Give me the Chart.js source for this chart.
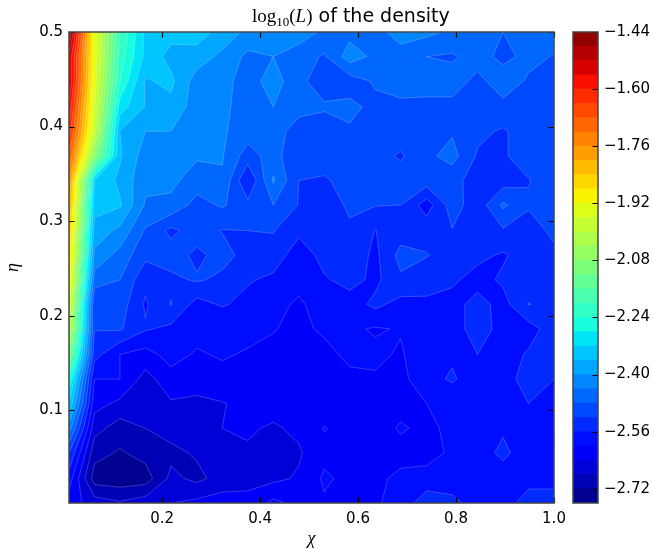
<!DOCTYPE html>
<html>
<head>
<meta charset="utf-8">
<title>log10(L) of the density</title>
<script src="https://cdn.jsdelivr.net/npm/chart.js@4/dist/chart.umd.min.js"></script>
<style>
    body { margin: 0; background: #fff; }
    canvas { position: absolute; top: 0; }
    #mapChart { left: 0; }
    #barChart { left: 560px; }
</style>
</head>
<body>
<canvas id="mapChart" width="653" height="550"></canvas>
<canvas id="barChart" width="93" height="550"></canvas>
<script>
// Grid of the contour map
const chiValues = [0.01, 0.062, 0.114, 0.166, 0.218, 0.271, 0.323, 0.375, 0.427, 0.479, 0.531, 0.583, 0.635, 0.687, 0.74, 0.792, 0.844, 0.896, 0.948, 1.0];
const etaValues = [0.5, 0.474, 0.448, 0.421, 0.395, 0.369, 0.343, 0.317, 0.29, 0.264, 0.238, 0.212, 0.186, 0.159, 0.133, 0.107, 0.081, 0.055, 0.028, 0.002];

// One list per chi value, running down from eta = 0.5
const logDensity = [
    [-1.44, -1.52, -1.52, -1.57, -1.62, -1.68, -1.76, -1.80, -1.84, -1.87, -1.90, -1.95, -2.00, -2.10, -2.24, -2.32, -2.42, -2.52, -2.58, -2.62],
    [-1.93, -1.93, -1.94, -1.96, -1.98, -2.08, -2.32, -2.345, -2.375, -2.41, -2.46, -2.52, -2.518, -2.545, -2.60, -2.625, -2.665, -2.705, -2.74, -2.66],
    [-2.20, -2.22, -2.24, -2.30, -2.36, -2.355, -2.37, -2.355, -2.41, -2.455, -2.48, -2.50, -2.515, -2.60, -2.60, -2.65, -2.70, -2.725, -2.745, -2.675],
    [-2.33, -2.33, -2.365, -2.362, -2.40, -2.42, -2.43, -2.445, -2.485, -2.51, -2.55, -2.565, -2.556, -2.615, -2.656, -2.665, -2.68, -2.705, -2.74, -2.658],
    [-2.345, -2.375, -2.35, -2.372, -2.40, -2.42, -2.43, -2.45, -2.53, -2.50, -2.53, -2.518, -2.57, -2.585, -2.615, -2.645, -2.665, -2.69, -2.67, -2.64],
    [-2.34, -2.378, -2.42, -2.42, -2.43, -2.435, -2.46, -2.495, -2.50, -2.53, -2.515, -2.576, -2.585, -2.605, -2.62, -2.65, -2.665, -2.675, -2.69, -2.63],
    [-2.375, -2.41, -2.425, -2.43, -2.435, -2.437, -2.445, -2.475, -2.522, -2.505, -2.53, -2.555, -2.60, -2.595, -2.615, -2.642, -2.64, -2.655, -2.665, -2.62],
    [-2.41, -2.45, -2.46, -2.46, -2.46, -2.50, -2.561, -2.508, -2.52, -2.535, -2.555, -2.575, -2.585, -2.605, -2.62, -2.63, -2.635, -2.645, -2.655, -2.625],
    [-2.41, -2.44, -2.42, -2.44, -2.46, -2.46, -2.435, -2.48, -2.518, -2.535, -2.57, -2.59, -2.598, -2.61, -2.62, -2.625, -2.645, -2.655, -2.65, -2.59],
    [-2.42, -2.46, -2.47, -2.465, -2.50, -2.52, -2.52, -2.522, -2.55, -2.585, -2.59, -2.605, -2.61, -2.61, -2.62, -2.625, -2.632, -2.645, -2.635, -2.61],
    [-2.447, -2.485, -2.50, -2.475, -2.50, -2.50, -2.525, -2.535, -2.54, -2.545, -2.565, -2.585, -2.593, -2.613, -2.61, -2.62, -2.598, -2.61, -2.594, -2.605],
    [-2.453, -2.42, -2.50, -2.47, -2.485, -2.495, -2.505, -2.515, -2.525, -2.532, -2.545, -2.58, -2.593, -2.59, -2.61, -2.615, -2.615, -2.61, -2.61, -2.605],
    [-2.448, -2.45, -2.475, -2.49, -2.50, -2.505, -2.51, -2.518, -2.561, -2.57, -2.57, -2.55, -2.604, -2.591, -2.605, -2.62, -2.62, -2.615, -2.61, -2.605],
    [-2.43, -2.45, -2.47, -2.485, -2.50, -2.525, -2.50, -2.52, -2.54, -2.506, -2.527, -2.575, -2.597, -2.605, -2.61, -2.615, -2.595, -2.615, -2.59, -2.585],
    [-2.43, -2.48, -2.472, -2.485, -2.495, -2.49, -2.50, -2.58, -2.535, -2.518, -2.54, -2.57, -2.58, -2.57, -2.578, -2.60, -2.61, -2.615, -2.585, -2.535],
    [-2.447, -2.485, -2.464, -2.49, -2.485, -2.465, -2.505, -2.50, -2.522, -2.535, -2.553, -2.575, -2.58, -2.568, -2.553, -2.60, -2.59, -2.593, -2.58, -2.55],
    [-2.45, -2.465, -2.49, -2.50, -2.51, -2.525, -2.54, -2.545, -2.55, -2.55, -2.575, -2.545, -2.54, -2.56, -2.59, -2.585, -2.585, -2.574, -2.58, -2.575],
    [-2.48, -2.49, -2.46, -2.49, -2.525, -2.525, -2.54, -2.472, -2.525, -2.565, -2.553, -2.575, -2.575, -2.58, -2.575, -2.58, -2.564, -2.553, -2.575, -2.58],
    [-2.45, -2.47, -2.485, -2.495, -2.50, -2.50, -2.522, -2.515, -2.54, -2.54, -2.535, -2.519, -2.578, -2.555, -2.545, -2.56, -2.58, -2.577, -2.575, -2.54],
    [-2.465, -2.482, -2.49, -2.49, -2.49, -2.49, -2.50, -2.50, -2.51, -2.53, -2.54, -2.53, -2.538, -2.545, -2.56, -2.58, -2.585, -2.585, -2.575, -2.54]
];

const contourLevels = [-2.76, -2.72, -2.68, -2.64, -2.60, -2.56, -2.52, -2.48, -2.44, -2.40, -2.36, -2.32, -2.28, -2.24, -2.20, -2.16, -2.12, -2.08, -2.04, -2.00, -1.96, -1.92, -1.88, -1.84, -1.80, -1.76, -1.72, -1.68, -1.64, -1.60, -1.56, -1.52, -1.48, -1.44];

const chiTicks = [0.2, 0.4, 0.6, 0.8, 1.0];
const etaTicks = [0.1, 0.2, 0.3, 0.4, 0.5];
const barTicks = [-2.72, -2.56, -2.40, -2.24, -2.08, -1.92, -1.76, -1.60, -1.44];

const sansFont = '"DejaVu Sans", sans-serif';
const serifFont = '"Liberation Serif", serif';

// matplotlib jet colormap
function jetChannel(points, t) {
    for (let i = 1; i < points.length; i++) {
        if (t <= points[i][0]) {
            const [x0, y0] = points[i - 1];
            const [x1, y1] = points[i];
            return y0 + (y1 - y0) * (t - x0) / (x1 - x0);
        }
    }
    return points[points.length - 1][1];
}

function jetColor(t) {
    const r = jetChannel([[0, 0], [0.35, 0], [0.66, 1], [0.89, 1], [1, 0.5]], t);
    const g = jetChannel([[0, 0], [0.125, 0], [0.375, 1], [0.64, 1], [0.91, 0], [1, 0]], t);
    const b = jetChannel([[0, 0.5], [0.11, 1], [0.34, 1], [0.65, 0], [1, 0]], t);
    return `rgb(${Math.round(r * 255)}, ${Math.round(g * 255)}, ${Math.round(b * 255)})`;
}

// Colour of the band that starts at contourLevels[k]
function bandColor(k) {
    const lo = contourLevels[0];
    const hi = contourLevels[contourLevels.length - 1];
    const mid = (contourLevels[k] + contourLevels[k + 1]) / 2;
    return jetColor((mid - lo) / (hi - lo));
}

function crossing(a, b, level) {
    const f = (level - a.v) / (b.v - a.v);
    return { x: a.x + (b.x - a.x) * f, y: a.y + (b.y - a.y) * f, cross: true };
}

// Part of one grid cell at or above the level, as polygons
function cellPolygons(c, level) {
    const above = c.map(p => p.v >= level);
    const isSaddle = above[0] === above[2] && above[1] === above[3] && above[0] !== above[1];
    const center = (c[0].v + c[1].v + c[2].v + c[3].v) / 4;
    if (isSaddle && center < level) {
        const first = above[0] ? 0 : 1;
        const [a, b, d, e] = [0, 1, 2, 3].map(i => c[(first + i) % 4]);
        return [
            [crossing(e, a, level), a, crossing(a, b, level)],
            [crossing(b, d, level), d, crossing(d, e, level)]
        ];
    }
    const poly = [];
    for (let i = 0; i < 4; i++) {
        const next = (i + 1) % 4;
        if (above[i]) poly.push(c[i]);
        if (above[i] !== above[next]) poly.push(crossing(c[i], c[next], level));
    }
    return poly.length ? [poly] : [];
}

// Filled contours, drawn through the chart's own scales
const contourPlugin = {
    id: 'contour',
    beforeDatasetsDraw(chart) {
        const { ctx, chartArea: area, scales } = chart;
        const cells = [];
        for (let i = 0; i < chiValues.length - 1; i++) {
            for (let j = 0; j < etaValues.length - 1; j++) {
                cells.push([[i, j], [i + 1, j], [i + 1, j + 1], [i, j + 1]].map(([a, b]) => ({
                    x: scales.x.getPixelForValue(chiValues[a]),
                    y: scales.y.getPixelForValue(etaValues[b]),
                    v: logDensity[a][b]
                })));
            }
        }
        ctx.save();
        ctx.beginPath();
        ctx.rect(area.left, area.top, area.right - area.left, area.bottom - area.top);
        ctx.clip();
        ctx.fillStyle = bandColor(0);
        ctx.fillRect(area.left, area.top, area.right - area.left, area.bottom - area.top);
        for (let k = 1; k < contourLevels.length - 1; k++) {
            const polys = cells.flatMap(c => cellPolygons(c, contourLevels[k]));
            ctx.beginPath();
            polys.forEach(poly => {
                poly.forEach((p, n) => (n ? ctx.lineTo(p.x, p.y) : ctx.moveTo(p.x, p.y)));
                ctx.closePath();
            });
            ctx.fillStyle = bandColor(k);
            ctx.fill();
            // Faint edge between two bands
            ctx.beginPath();
            polys.forEach(poly => {
                poly.forEach((p, n) => {
                    const q = poly[(n + 1) % poly.length];
                    if (p.cross && q.cross) {
                        ctx.moveTo(p.x, p.y);
                        ctx.lineTo(q.x, q.y);
                    }
                });
            });
            ctx.strokeStyle = 'rgba(255, 255, 255, 0.3)';
            ctx.lineWidth = 0.7;
            ctx.stroke();
        }
        ctx.restore();
    }
};

// Frame with inward ticks on the given sides
function drawFrame(chart, xTicks, yTicks) {
    const { ctx, chartArea: area, scales } = chart;
    const { left, right, top, bottom } = area;
    ctx.save();
    ctx.strokeStyle = '#000';
    ctx.lineWidth = 1.2;
    ctx.beginPath();
    xTicks.forEach(v => {
        const x = Math.round(scales.x.getPixelForValue(v)) + 0.5;
        ctx.moveTo(x, bottom); ctx.lineTo(x, bottom - 5.5);
        ctx.moveTo(x, top); ctx.lineTo(x, top + 5.5);
    });
    yTicks.forEach(v => {
        const y = Math.round(scales.y.getPixelForValue(v)) + 0.5;
        ctx.moveTo(right, y); ctx.lineTo(right - 5.5, y);
        if (xTicks.length) { ctx.moveTo(left, y); ctx.lineTo(left + 5.5, y); }
    });
    ctx.stroke();
    ctx.strokeStyle = '#444';
    ctx.lineWidth = 1.5;
    ctx.strokeRect(left, top, right - left, bottom - top);
    ctx.restore();
}

// Title mixes math text and plain text, so it goes piece by piece
function drawTitle(chart) {
    const { ctx } = chart;
    const pieces = [
        ['log', `19px ${serifFont}`, 0],
        ['10', `13px ${serifFont}`, 4],
        ['(', `19px ${serifFont}`, 0],
        ['L', `italic 19px ${serifFont}`, 0],
        [')', `19px ${serifFont}`, 0],
        [' of the density', `19px ${sansFont}`, 0]
    ];
    let x = 252;
    ctx.save();
    ctx.fillStyle = '#000';
    ctx.textBaseline = 'alphabetic';
    pieces.forEach(([text, font, drop]) => {
        ctx.font = font;
        ctx.fillText(text, x, 22 + drop);
        x += ctx.measureText(text).width;
    });
    ctx.restore();
}

const mapFramePlugin = {
    id: 'mapFrame',
    afterDraw(chart) {
        drawFrame(chart, chiTicks, etaTicks);
        drawTitle(chart);
    }
};

new Chart(document.getElementById('mapChart'), {
    type: 'scatter',
    data: {
        datasets: [{
            data: chiValues.flatMap(x => etaValues.map(y => ({ x, y }))),
            pointRadius: 0,
            showLine: false
        }]
    },
    plugins: [contourPlugin, mapFramePlugin],
    options: {
        responsive: false,
        animation: false,
        layout: { padding: { top: 32, right: 99, bottom: 0, left: 0 } },
        plugins: { legend: { display: false }, tooltip: { enabled: false } },
        scales: {
            x: {
                type: 'linear',
                min: 0.01,
                max: 1.0,
                grid: { display: false, drawTicks: false },
                border: { display: false },
                afterBuildTicks: scale => { scale.ticks = chiTicks.map(value => ({ value })); },
                afterFit: scale => { scale.height = 47; },
                ticks: {
                    maxRotation: 0,
                    autoSkip: false,
                    padding: 7,
                    color: '#000',
                    font: { family: sansFont, size: 15 },
                    callback: v => v.toFixed(1)
                },
                title: {
                    display: true,
                    text: 'χ',
                    color: '#000',
                    padding: { top: 0, bottom: 0 },
                    font: { family: serifFont, size: 18, style: 'italic' }
                }
            },
            y: {
                type: 'linear',
                min: 0.002,
                max: 0.5,
                grid: { display: false, drawTicks: false },
                border: { display: false },
                afterBuildTicks: scale => { scale.ticks = etaTicks.map(value => ({ value })); },
                afterFit: scale => { scale.width = 69; },
                ticks: {
                    autoSkip: false,
                    padding: 6,
                    color: '#000',
                    font: { family: sansFont, size: 15 },
                    callback: v => v.toFixed(1)
                },
                title: {
                    display: true,
                    text: 'η',
                    color: '#000',
                    padding: { top: 2, bottom: 0 },
                    font: { family: serifFont, size: 18, style: 'italic' }
                }
            }
        }
    }
});

// Colour bar: one floating bar per contour band
const barFramePlugin = {
    id: 'barFrame',
    afterDraw(chart) {
        drawFrame(chart, [], barTicks);
    }
};

new Chart(document.getElementById('barChart'), {
    type: 'bar',
    data: {
        labels: ['band'],
        datasets: contourLevels.slice(0, -1).map((lo, k) => ({
            data: [[lo, contourLevels[k + 1]]],
            backgroundColor: bandColor(k),
            barPercentage: 1,
            categoryPercentage: 1,
            grouped: false
        }))
    },
    plugins: [barFramePlugin],
    options: {
        responsive: false,
        animation: false,
        layout: { padding: { top: 32, right: 0, bottom: 47, left: 13 } },
        plugins: { legend: { display: false }, tooltip: { enabled: false } },
        scales: {
            x: { display: false },
            y: {
                type: 'linear',
                position: 'right',
                min: contourLevels[0],
                max: contourLevels[contourLevels.length - 1],
                grid: { display: false, drawTicks: false },
                border: { display: false },
                afterBuildTicks: scale => { scale.ticks = barTicks.map(value => ({ value })); },
                afterFit: scale => { scale.width = 55; },
                ticks: {
                    autoSkip: false,
                    padding: 6,
                    crossAlign: 'near',
                    color: '#000',
                    font: { family: sansFont, size: 15 },
                    callback: v => '\u2212' + Math.abs(v).toFixed(2)
                }
            }
        }
    }
});
</script>
</body>
</html>
